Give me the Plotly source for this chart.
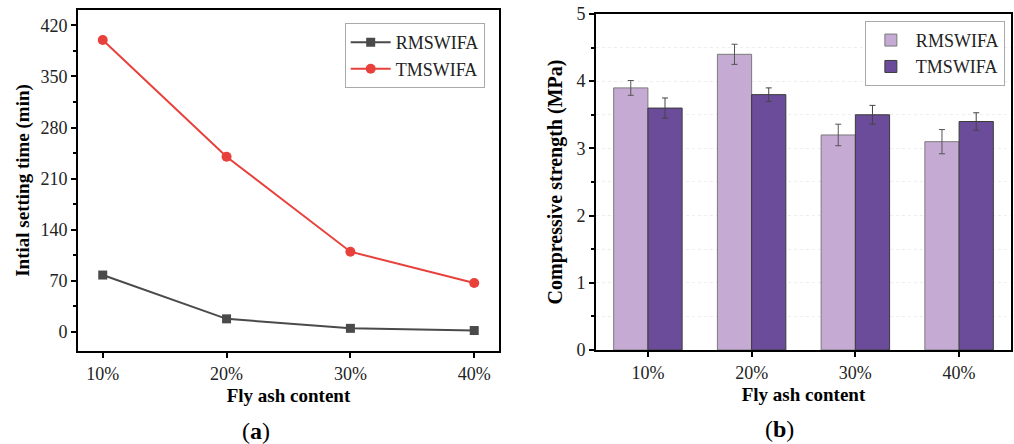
import plotly.graph_objects as go

categories = ["10%", "20%", "30%", "40%"]
# Panel (a): initial setting time (min)
rms_time = [78, 18, 5, 2]
tms_time = [400, 240, 110, 67]
# Panel (b): compressive strength (MPa)
rms_strength = [3.9, 4.4, 3.2, 3.1]
rms_err = [0.11, 0.15, 0.16, 0.18]
tms_strength = [3.6, 3.8, 3.5, 3.4]
tms_err = [0.15, 0.10, 0.14, 0.13]
time_ticks = [0, 70, 140, 210, 280, 350, 420]
strength_ticks = [0, 1, 2, 3, 4, 5]

SERIF = "Liberation Serif, Times New Roman, serif"
fig = go.Figure()

fig.add_trace(go.Scatter(
    x=categories, y=rms_time, name="RMSWIFA", mode="lines+markers",
    line=dict(color="#4a4a4a", width=2),
    marker=dict(symbol="square", size=9, color="#4a4a4a"),
    xaxis="x", yaxis="y", legend="legend"))
fig.add_trace(go.Scatter(
    x=categories, y=tms_time, name="TMSWIFA", mode="lines+markers",
    line=dict(color="#e8413c", width=2),
    marker=dict(symbol="circle", size=10, color="#e8413c"),
    xaxis="x", yaxis="y", legend="legend"))

fig.add_trace(go.Bar(
    x=categories, y=rms_strength, name="RMSWIFA",
    marker=dict(color="#c5aad3", line=dict(color="#7a7a7a", width=1)),
    error_y=dict(type="data", array=rms_err, color="#555555", thickness=1, width=3),
    xaxis="x2", yaxis="y2", legend="legend2"))
fig.add_trace(go.Bar(
    x=categories, y=tms_strength, name="TMSWIFA",
    marker=dict(color="#6b4c9a", line=dict(color="#3a3a3a", width=1)),
    error_y=dict(type="data", array=tms_err, color="#444444", thickness=1, width=3),
    xaxis="x2", yaxis="y2", legend="legend2"))

axis_common = dict(showline=True, linecolor="black", linewidth=2, mirror=True,
                   ticks="outside", tickcolor="black", ticklen=5, tickwidth=1.5,
                   showgrid=False, zeroline=False, automargin=False,
                   tickfont=dict(family=SERIF, size=18, color="#222"))
title_font = dict(family=SERIF, size=19, color="black", weight="bold")

fig.update_layout(
    width=1014, height=444, margin=dict(l=0, r=0, t=0, b=0, autoexpand=False),
    paper_bgcolor="white", plot_bgcolor="white",
    barmode="group", bargap=0.34, bargroupgap=0,
    xaxis=dict(axis_common, domain=[0.0769, 0.4921], anchor="y",
               range=[-0.2, 3.2], type="category",
               title=dict(text="Fly ash content", font=title_font, standoff=6)),
    yaxis=dict(axis_common, domain=[0.2095, 0.9775], anchor="x",
               range=[-26, 441], tickvals=time_ticks,
               minor=dict(ticks="outside", ticklen=3, tickcolor="black", dtick=35, tick0=0),
               title=dict(text="Intial setting time (min)", font=title_font, standoff=6)),
    xaxis2=dict(axis_common, domain=[0.5878, 0.997], anchor="y2",
                range=[-0.5, 3.5], type="category",
                title=dict(text="Fly ash content", font=title_font, standoff=6)),
    yaxis2=dict(axis_common, domain=[0.2117, 0.9685], anchor="x2",
                range=[0, 5], tickvals=strength_ticks,
                minor=dict(ticks="outside", ticklen=3, tickcolor="black", dtick=0.5,
                           showgrid=True, gridcolor="#eeeeee", griddash="dot"),
                title=dict(text="Compressive strength (MPa)",
                           font=dict(title_font, size=20), standoff=8)),
    legend=dict(x=0.478, y=0.948, xanchor="right", yanchor="top",
                bordercolor="#aaaaaa", borderwidth=1, bgcolor="white",
                font=dict(family=SERIF, size=18, color="#222"),
                tracegroupgap=0, itemwidth=40),
    legend2=dict(x=0.991, y=0.953, xanchor="right", yanchor="top",
                 bordercolor="#aaaaaa", borderwidth=1, bgcolor="white",
                 font=dict(family=SERIF, size=18, color="#222"),
                 tracegroupgap=0, itemwidth=40),
    annotations=[
        dict(text="(<b>a</b>)", x=0.2525, y=0.03, xref="paper", yref="paper",
             xanchor="center", yanchor="middle",
             showarrow=False, font=dict(family=SERIF, size=24, color="black")),
        dict(text="(<b>b</b>)", x=0.769, y=0.033, xref="paper", yref="paper",
             xanchor="center", yanchor="middle",
             showarrow=False, font=dict(family=SERIF, size=24, color="black")),
    ],
)

fig.write_html("out.html")
